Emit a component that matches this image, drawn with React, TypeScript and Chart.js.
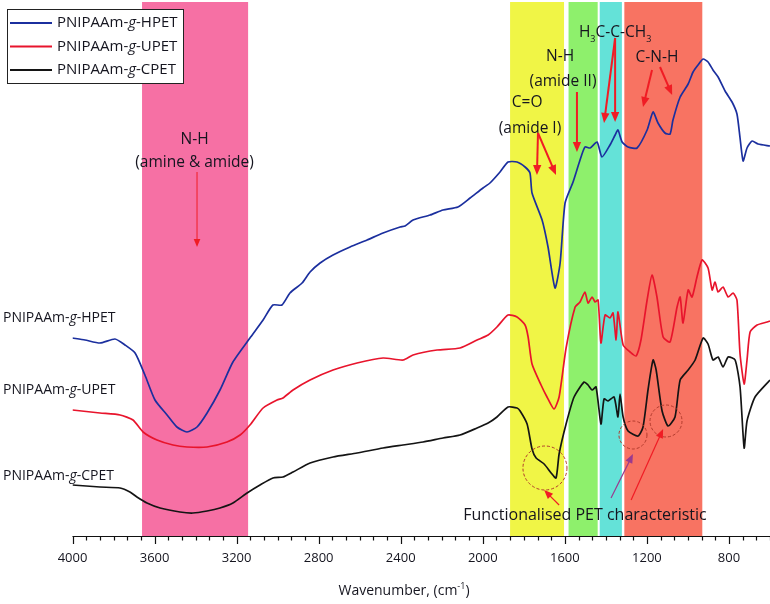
import { useEffect, useRef } from 'react'
import { Chart, ChartConfiguration, Plugin } from 'chart.js/auto'

// x axis (wavenumber, reversed) and tick labels
const xMin = 600
const xMax = 4000
const tickLabels = [4000, 3600, 3200, 2800, 2400, 2000, 1600, 1200, 800]
const minorPerMajor = 6

const seriesNames = ['HPET', 'UPET', 'CPET']
const seriesColors = ['#1b2f9e', '#e8142c', '#141414']

// spectra, arbitrary units (offset traces)
const hpetWavenumber = [
  4000, 3939, 3866, 3793, 3744, 3695, 3647, 3598, 3539, 3491, 3442, 3393, 3344, 3281, 3218, 3135,
  3071, 3023, 2979, 2940, 2881, 2842, 2793, 2730, 2647, 2564, 2486, 2403, 2379, 2340, 2257, 2194,
  2121, 2062, 1999, 1965, 1916, 1877, 1833, 1794, 1770, 1760, 1711, 1682, 1648, 1623, 1599, 1560,
  1526, 1502, 1477, 1443, 1419, 1380, 1355, 1341, 1321, 1292, 1248, 1199, 1170, 1146, 1112, 1087,
  1073, 1038, 999, 975, 951, 926, 902, 878, 853, 819, 785, 761, 746, 731, 712, 687, 658, 600,
]
const hpetSignal = [
  198, 196, 193, 197, 191, 183, 161, 136, 121, 109, 104, 109, 123, 146, 174, 198,
  216, 231, 231, 243, 253, 264, 273, 281, 289, 296, 303, 309, 310, 316, 321, 326,
  329, 338, 348, 353, 364, 374, 374, 369, 363, 343, 316, 289, 248, 273, 333, 354,
  376, 389, 388, 394, 379, 391, 401, 406, 394, 389, 388, 406, 424, 413, 403, 402,
  416, 439, 452, 464, 471, 477, 474, 466, 459, 445, 434, 422, 398, 375, 388, 395, 392, 390,
]

const upetWavenumber = [
  4000, 3866, 3768, 3705, 3656, 3588, 3510, 3442, 3344, 3247, 3183, 3135, 3071, 3003, 2974, 2925,
  2842, 2730, 2613, 2486, 2389, 2340, 2223, 2111, 2028, 1974, 1931, 1877, 1833, 1794, 1779, 1760,
  1716, 1687, 1653, 1628, 1594, 1550, 1526, 1502, 1487, 1467, 1453, 1438, 1424, 1404, 1380, 1365,
  1350, 1341, 1316, 1282, 1253, 1229, 1199, 1175, 1151, 1121, 1087, 1053, 1038, 1024, 999, 980,
  956, 931, 902, 882, 868, 853, 829, 804, 780, 761, 746, 726, 712, 697, 663, 614, 600,
]
const upetSignal = [
  126, 123, 121, 116, 104, 96, 91, 89, 89, 94, 101, 111, 128, 136, 138, 146,
  156, 166, 173, 178, 176, 181, 186, 188, 196, 201, 209, 221, 219, 211, 199, 172,
  151, 139, 127, 139, 188, 229, 234, 244, 233, 239, 234, 236, 193, 221, 218, 223,
  196, 224, 191, 184, 180, 196, 236, 261, 239, 199, 194, 229, 239, 213, 246, 239,
  259, 276, 268, 246, 254, 244, 249, 239, 243, 236, 182, 152, 176, 204, 211, 214, 215,
]

const cpetWavenumber = [
  4000, 3866, 3768, 3720, 3686, 3637, 3573, 3476, 3413, 3344, 3281, 3218, 3149, 3086, 3023, 2974,
  2925, 2842, 2730, 2613, 2486, 2389, 2291, 2194, 2111, 2028, 1974, 1931, 1877, 1833, 1818, 1784,
  1760, 1740, 1701, 1667, 1643, 1628, 1594, 1555, 1506, 1487, 1467, 1448, 1424, 1409, 1389, 1360,
  1341, 1331, 1316, 1292, 1243, 1219, 1194, 1170, 1155, 1126, 1097, 1063, 1038, 999, 965, 926,
  902, 878, 853, 829, 804, 770, 746, 726, 712, 673, 600,
]
const cpetSignal = [
  51, 49, 48, 44, 39, 33, 28, 24, 23, 25, 28, 33, 43, 51, 58, 59,
  64, 73, 79, 83, 88, 91, 94, 98, 101, 108, 113, 119, 129, 128, 125, 112,
  87, 78, 72, 63, 58, 82, 112, 139, 154, 151, 146, 149, 112, 137, 135, 139,
  119, 142, 119, 105, 100, 109, 147, 176, 166, 125, 110, 119, 156, 166, 176, 198,
  192, 176, 179, 169, 179, 176, 149, 88, 115, 139, 156,
]

// highlighted absorption regions (wavenumber from, to)
const bandFrom = [3661, 1867, 1582, 1430, 1310]
const bandTo = [3144, 1604, 1440, 1322, 930]
const bandColors = ['#f670a4', '#f0f546', '#8ef06c', '#64e2d8', '#f87362']

// dashed circles: wavenumber, signal, radius
const circleWavenumber = [1697, 1268, 1107]
const circleSignal = [68, 101, 115]
const circleRadius = [22, 14, 16]

const FONT = '"Open Sans", "DejaVu Sans", sans-serif'
const TEXT = '#15151f'

function toXY(w: number[], s: number[]) {
  return w.map((x, i) => ({ x, y: s[i] }))
}

function drawArrow(
  ctx: CanvasRenderingContext2D,
  x1: number, y1: number, x2: number, y2: number,
  color: string, width: number, head: number,
) {
  const a = Math.atan2(y2 - y1, x2 - x1)
  ctx.save()
  ctx.strokeStyle = color
  ctx.fillStyle = color
  ctx.lineWidth = width
  ctx.beginPath()
  ctx.moveTo(x1, y1)
  ctx.lineTo(x2 - Math.cos(a) * head * 0.8, y2 - Math.sin(a) * head * 0.8)
  ctx.stroke()
  ctx.beginPath()
  ctx.moveTo(x2, y2)
  ctx.lineTo(x2 - head * Math.cos(a) + (head / 2.4) * Math.sin(a), y2 - head * Math.sin(a) - (head / 2.4) * Math.cos(a))
  ctx.lineTo(x2 - head * Math.cos(a) - (head / 2.4) * Math.sin(a), y2 - head * Math.sin(a) + (head / 2.4) * Math.cos(a))
  ctx.closePath()
  ctx.fill()
  ctx.restore()
}

// "PNIPAAm-g-XPET" with an italic g
function drawSampleName(ctx: CanvasRenderingContext2D, suffix: string, x: number, y: number, size: number) {
  const parts: [string, boolean][] = [['PNIPAAm-', false], ['g', true], ['-' + suffix, false]]
  ctx.save()
  ctx.fillStyle = TEXT
  ctx.textAlign = 'left'
  ctx.textBaseline = 'middle'
  let cx = x
  parts.forEach(([t, it]) => {
    ctx.font = `${it ? 'italic ' : ''}${size}px ${FONT}`
    ctx.fillText(t, cx, y)
    cx += ctx.measureText(t).width
  })
  ctx.restore()
}

function centerText(ctx: CanvasRenderingContext2D, t: string, x: number, y: number, size = 15.5) {
  ctx.save()
  ctx.font = `${size}px ${FONT}`
  ctx.fillStyle = TEXT
  ctx.textAlign = 'center'
  ctx.textBaseline = 'middle'
  ctx.fillText(t, x, y)
  ctx.restore()
}

const bandsPlugin: Plugin<'line'> = {
  id: 'bands',
  beforeDatasetsDraw(chart) {
    const { ctx, chartArea, scales } = chart
    const x = scales.x
    ctx.save()
    bandFrom.forEach((from, i) => {
      const a = x.getPixelForValue(from)
      const b = x.getPixelForValue(bandTo[i])
      ctx.fillStyle = bandColors[i]
      ctx.fillRect(a, chartArea.top, b - a, chartArea.bottom - chartArea.top)
    })
    ctx.restore()
  },
}

const decorPlugin: Plugin<'line'> = {
  id: 'decor',
  afterDraw(chart) {
    const { ctx, chartArea, scales } = chart
    const x = scales.x
    const y = scales.y
    const px = (w: number) => x.getPixelForValue(w)
    const py = (v: number) => y.getPixelForValue(v)
    const bottom = chartArea.bottom

    // x axis with major / minor ticks
    ctx.save()
    ctx.strokeStyle = '#111'
    ctx.lineWidth = 1.2
    ctx.beginPath()
    ctx.moveTo(chartArea.left, bottom + 0.5)
    ctx.lineTo(chartArea.right, bottom + 0.5)
    ctx.stroke()
    const step = (tickLabels[0] - tickLabels[1]) / minorPerMajor
    for (let k = 0; tickLabels[0] - k * step >= xMin - 0.01; k++) {
      const w = tickLabels[0] - k * step
      const major = k % minorPerMajor === 0
      const xx = Math.round(px(w)) + 0.5
      ctx.beginPath()
      ctx.moveTo(xx, bottom)
      ctx.lineTo(xx, bottom + (major ? 8 : 4.5))
      ctx.stroke()
    }
    ctx.font = `13px ${FONT}`
    ctx.fillStyle = TEXT
    ctx.textAlign = 'center'
    ctx.textBaseline = 'middle'
    tickLabels.forEach((t) => ctx.fillText(String(t), px(t), bottom + 22))

    // axis title with superscript
    const main = 'Wavenumber, (cm'
    ctx.font = `14px ${FONT}`
    const w1 = ctx.measureText(main).width
    const w3 = ctx.measureText(')').width
    ctx.font = `9px ${FONT}`
    const w2 = ctx.measureText('-1').width
    let tx = 404 - (w1 + w2 + w3) / 2
    const ty = bottom + 55
    ctx.textAlign = 'left'
    ctx.font = `14px ${FONT}`
    ctx.fillText(main, tx, ty)
    tx += w1
    ctx.font = `9px ${FONT}`
    ctx.fillText('-1', tx, ty - 5)
    tx += w2
    ctx.font = `14px ${FONT}`
    ctx.fillText(')', tx, ty)
    ctx.restore()

    // legend box
    ctx.save()
    ctx.fillStyle = '#fff'
    ctx.fillRect(7, 9, 176, 74)
    ctx.strokeStyle = '#222'
    ctx.lineWidth = 1
    ctx.strokeRect(7.5, 9.5, 176, 74)
    seriesNames.forEach((n, i) => {
      const ly = 23 + i * 23.5
      ctx.strokeStyle = seriesColors[i]
      ctx.lineWidth = 2
      ctx.beginPath()
      ctx.moveTo(10, ly)
      ctx.lineTo(52, ly)
      ctx.stroke()
      drawSampleName(ctx, n, 57, ly, 15)
    })
    ctx.restore()

    // trace labels on the left
    const labelY = [318, 390, 476]
    seriesNames.forEach((n, i) => drawSampleName(ctx, n, 3, labelY[i], 14))

    // band annotations
    const red = '#f01c24'
    centerText(ctx, 'N-H', px(3405), py(396))
    centerText(ctx, '(amine & amide)', px(3405), py(373))
    drawArrow(ctx, px(3393), py(364), px(3393), py(289), red, 1, 8)

    centerText(ctx, 'C=O', px(1784), py(433))
    centerText(ctx, '(amide I)', px(1770), py(407))
    drawArrow(ctx, px(1731), py(403), px(1736), py(361), red, 2, 10)
    drawArrow(ctx, px(1731), py(403), px(1643), py(361), red, 2, 10)

    centerText(ctx, 'N-H', px(1623), py(479))
    centerText(ctx, '(amide II)', px(1609), py(454))
    drawArrow(ctx, px(1541), py(444), px(1541), py(384), red, 2, 10)

    // H3C-C-CH3 with subscripts
    ctx.save()
    ctx.fillStyle = TEXT
    ctx.textBaseline = 'middle'
    ctx.textAlign = 'left'
    const segs: [string, boolean][] = [['H', false], ['3', true], ['C-C-CH', false], ['3', true]]
    let total = 0
    segs.forEach(([t, sub]) => {
      ctx.font = `${sub ? 9 : 15.5}px ${FONT}`
      total += ctx.measureText(t).width
    })
    let hx = px(1355) - total / 2
    const hy = py(503)
    segs.forEach(([t, sub]) => {
      ctx.font = `${sub ? 9 : 15.5}px ${FONT}`
      ctx.fillText(t, hx, sub ? hy + 6 : hy)
      hx += ctx.measureText(t).width
    })
    ctx.restore()
    drawArrow(ctx, px(1355), py(498), px(1409), py(413), red, 2, 10)
    drawArrow(ctx, px(1355), py(498), px(1355), py(414), red, 2, 10)

    centerText(ctx, 'C-N-H', px(1151), py(478))
    drawArrow(ctx, px(1175), py(466), px(1219), py(429), red, 2, 10)
    drawArrow(ctx, px(1136), py(469), px(1077), py(441), red, 2, 10)

    // PET characteristic circles
    ctx.save()
    ctx.strokeStyle = '#b23a2c'
    ctx.lineWidth = 1
    ctx.setLineDash([3, 2])
    circleWavenumber.forEach((w, i) => {
      ctx.beginPath()
      ctx.arc(px(w), py(circleSignal[i]), circleRadius[i], 0, Math.PI * 2)
      ctx.stroke()
    })
    ctx.restore()
    centerText(ctx, 'Functionalised PET characteristic', px(1502), py(21), 16)
    drawArrow(ctx, px(1628), py(31), px(1701), py(46), red, 1.2, 9)
    drawArrow(ctx, px(1375), py(38), px(1268), py(82), '#9a3a8e', 1.2, 9)
    drawArrow(ctx, px(1277), py(36), px(1121), py(107), red, 1.2, 9)
  },
}

export default function App() {
  const canvasRef = useRef<HTMLCanvasElement>(null)
  const chartRef = useRef<Chart<'line'>>()

  useEffect(() => {
    if (!canvasRef.current) return
    const ctx = canvasRef.current.getContext('2d')
    if (!ctx) return

    const series = [
      toXY(hpetWavenumber, hpetSignal),
      toXY(upetWavenumber, upetSignal),
      toXY(cpetWavenumber, cpetSignal),
    ]

    const config: ChartConfiguration<'line'> = {
      type: 'line',
      data: {
        datasets: series.map((data, i) => ({
          label: `PNIPAAm-g-${seriesNames[i]}`,
          data,
          borderColor: seriesColors[i],
          borderWidth: 1.7,
          pointRadius: 0,
          tension: 0.2,
          fill: false,
        })),
      },
      options: {
        responsive: false,
        animation: false,
        layout: { padding: { left: 72.5, right: 0, top: 2, bottom: 68 } },
        scales: {
          x: { type: 'linear', min: xMin, max: xMax, reverse: true, display: false },
          y: { type: 'linear', min: 0, max: 534, display: false },
        },
        plugins: {
          legend: { display: false },
          tooltip: { enabled: false },
        },
      },
      plugins: [bandsPlugin, decorPlugin],
    }

    if (chartRef.current) chartRef.current.destroy()
    chartRef.current = new Chart(ctx, config)

    return () => {
      if (chartRef.current) chartRef.current.destroy()
    }
  }, [])

  return (
    <div style={{ position: 'absolute', left: 0, top: 0, width: 770, height: 604, background: '#fff' }}>
      <canvas ref={canvasRef} width={770} height={604} />
    </div>
  )
}
